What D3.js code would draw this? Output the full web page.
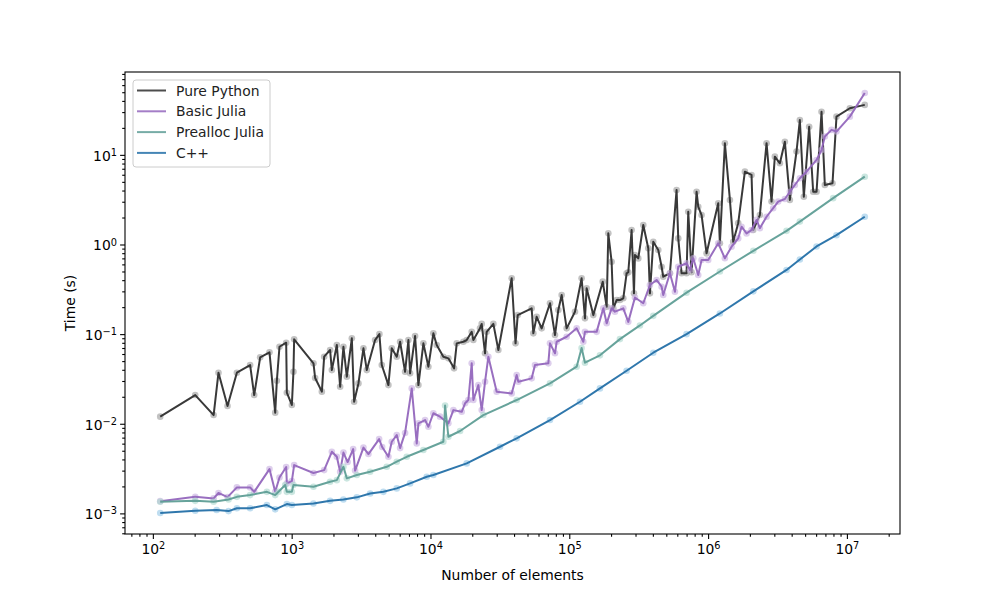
<!DOCTYPE html>
<html>
<head>
<meta charset="utf-8">
<script src="https://cdn.jsdelivr.net/npm/d3@7"></script>
<style>
  body { margin: 0; background: #fff; }
  svg { font-family: "DejaVu Sans", sans-serif; }
</style>
</head>
<body>
<svg id="chart" width="1000" height="600"></svg>
<script>
// Pure Python timings
var pySizes = [
  113, 202, 274, 297, 345, 403, 502, 537, 593, 692,
  761, 782, 817, 913, 923, 1003, 1030, 1042, 1436, 1476,
  1650, 1714, 1892, 1947, 2115, 2235, 2360, 2497, 2713, 2818,
  3027, 3289, 3477, 3990, 4285, 4458, 4977, 5261, 5715, 6040,
  6561, 6935, 7130, 7745, 8185, 8890, 9660, 10490, 11090, 12380,
  13460, 14790, 15460, 17260, 18240, 19820, 20370, 22750, 23390, 24720,
  25410, 28380, 30830, 38460, 41000, 42500, 53580, 55080, 58210, 63240,
  72610, 78890, 83370, 88150, 95720, 109900, 122700, 129700, 133400, 148900,
  174200, 185900, 191000, 201800, 207500, 219300, 231700, 244900, 258800, 266100,
  281200, 292400, 297200, 314100, 341200, 370700, 381100, 402700, 437500, 462400,
  475300, 530900, 592900, 609500, 644200, 699800, 719400, 760300, 826000, 849200,
  897500, 975000, 1.183e6, 1.216e6, 1.321e6, 1.436e6, 1.517e6, 1.648e6, 1.841e6, 2.056e6,
  2.113e6, 2.360e6, 2.637e6, 2.864e6, 3.027e6, 3.289e6, 3.573e6, 3.882e6, 4.335e6, 4.581e6,
  4.895e6, 5.346e6, 5.716e6, 6.045e6, 6.565e6, 6.935e6, 7.875e6, 8.413e6, 1.050e7, 1.345e7
];
var pyTimes = [
  0.0120, 0.0209, 0.0125, 0.0371, 0.0158, 0.0371, 0.0452, 0.0209, 0.0551, 0.0627,
  0.0133, 0.0302, 0.0723, 0.0802, 0.0222, 0.0162, 0.0380, 0.0875, 0.0472, 0.0324,
  0.0228, 0.0560, 0.0665, 0.0397, 0.0756, 0.0259, 0.0723, 0.0335, 0.0898, 0.0176,
  0.0282, 0.0694, 0.0397, 0.0859, 0.100, 0.0452, 0.0270, 0.0694, 0.0560, 0.0822,
  0.0380, 0.0859, 0.0365, 0.0952, 0.0270, 0.0789, 0.0433, 0.102, 0.0756, 0.0560,
  0.0537, 0.0415, 0.0789, 0.0822, 0.0859, 0.106, 0.0859, 0.116, 0.130, 0.0611,
  0.106, 0.130, 0.0665, 0.420, 0.0789, 0.163, 0.194, 0.102, 0.156, 0.116,
  0.221, 0.0977, 0.186, 0.273, 0.116, 0.178, 0.420, 0.150, 0.324, 0.163,
  0.385, 0.202, 1.334, 0.643, 0.194, 0.240, 0.240, 0.251, 0.477, 0.490,
  1.452, 0.285, 0.764, 0.700, 1.65, 0.907, 0.285, 1.074, 0.868, 0.565,
  0.437, 0.477, 4.06, 1.17, 0.477, 0.477, 2.32, 0.490, 3.88, 2.64,
  2.13, 0.797, 2.88, 1.03, 13.5, 3.14, 1.07, 1.73, 6.50, 5.97,
  1.45, 2.13, 13.5, 3.01, 9.55, 8.05, 14.0, 3.14, 10.9, 24.5,
  3.41, 20.6, 3.88, 3.88, 30.3, 4.61, 4.82, 26.7, 33.1, 36.1
];

// Basic Julia timings
var jlSizes = [
  113, 202, 274, 297, 345, 403, 502, 537, 692, 761,
  817, 913, 923, 1003, 1042, 1436, 1714, 1947, 2115, 2235,
  2360, 2530, 2773, 2864, 3289, 3573, 4266, 4487, 4977, 5261,
  5715, 6040, 6561, 7330, 7962, 8185, 9140, 9660, 10490, 11720,
  13460, 14620, 16790, 17750, 18750, 19820, 20370, 22130, 23390, 24720,
  26120, 29990, 38460, 41780, 42950, 53580, 56620, 70630, 72610, 78890,
  81100, 95720, 113000, 126200, 129700, 157400, 175800, 185900, 201800, 213300,
  244900, 266100, 297200, 341200, 381100, 425600, 462400, 475300, 530900, 576800,
  609500, 699800, 739600, 781600, 849200, 897500, 1.002e6, 1.183e6, 1.321e6, 1.476e6,
  1.648e6, 1.742e6, 1.893e6, 2.056e6, 2.234e6, 2.360e6, 2.637e6, 2.944e6, 3.199e6, 3.573e6,
  3.882e6, 4.217e6, 4.581e6, 5.117e6, 6.045e6, 6.565e6, 6.935e6, 7.745e6, 8.413e6, 1.050e7,
  1.345e7
];
var jlTimes = [
  1.37e-3, 1.53e-3, 1.47e-3, 1.69e-3, 1.52e-3, 1.95e-3, 1.95e-3, 1.74e-3, 3.12e-3, 1.74e-3,
  2.51e-3, 3.29e-3, 2.16e-3, 2.29e-3, 3.46e-3, 2.82e-3, 3.04e-3, 4.87e-3, 4.28e-3, 2.91e-3,
  4.77e-3, 3.74e-3, 5.22e-3, 3.00e-3, 5.42e-3, 4.59e-3, 6.75e-3, 5.50e-3, 4.28e-3, 6.30e-3,
  7.48e-3, 5.35e-3, 7.9e-3, 2.48e-2, 6.04e-3, 1.01e-2, 1.10e-2, 9.26e-3, 1.31e-2, 1.20e-2,
  1.01e-2, 1.42e-2, 1.36e-2, 1.69e-2, 1.84e-2, 4.72e-2, 1.84e-2, 2.70e-2, 1.42e-2, 2.94e-2,
  5.60e-2, 2.28e-2, 2.18e-2, 3.50e-2, 2.94e-2, 3.21e-2, 4.52e-2, 4.72e-2, 7.89e-2, 6.11e-2,
  8.22e-2, 9.35e-2, 0.116, 8.22e-2, 0.106, 0.106, 0.194, 0.132, 0.194, 0.178,
  0.194, 0.137, 0.256, 0.221, 0.353, 0.402, 0.338, 0.273, 0.477, 0.297,
  0.565, 0.617, 0.519, 0.701, 0.457, 0.671, 0.671, 1.03, 0.701, 0.945,
  1.17, 1.58, 1.33, 1.45, 1.88, 1.52, 2.04, 2.54, 3.01, 3.22,
  3.88, 4.61, 5.48, 6.49, 8.77, 11.3, 16.0, 19.0, 18.2, 26.7,
  49
];

// Prealloc Julia timings
var paSizes = [
  113, 202, 274, 351, 403, 502, 663, 761, 804, 898,
  923, 1003, 1030, 1436, 1892, 2115, 2360, 2497, 2946, 3675,
  4842, 5715, 6745, 8890, 12380, 12740, 13460, 16340, 24040, 41780,
  72610, 113000, 122700, 129700, 166300, 231700, 322800, 402700, 699800, 1.216e6,
  2.118e6, 3.675e6, 4.581e6, 7.96e6, 1.345e7
];
var paTimes = [
  1.35e-3, 1.38e-3, 1.35e-3, 1.43e-3, 1.53e-3, 1.60e-3, 1.74e-3, 1.60e-3, 1.74e-3, 2.07e-3,
  1.74e-3, 1.74e-3, 2.07e-3, 1.98e-3, 2.25e-3, 2.35e-3, 3.31e-3, 2.46e-3, 2.68e-3, 2.91e-3,
  3.31e-3, 3.77e-3, 4.28e-3, 5.09e-3, 6.30e-3, 1.6e-2, 7.16e-3, 8.3e-3, 1.25e-2, 1.84e-2,
  2.82e-2, 4.33e-2, 7.0e-2, 4.8e-2, 5.8e-2, 8.8e-2, 0.125, 0.16, 0.29, 0.50,
  0.85, 1.42, 1.8, 3.29, 5.71
];

// C++ timings
var cpSizes = [
  113, 202, 288, 351, 403, 502, 663, 761, 923, 1003,
  1436, 1892, 2360, 2946, 3675, 4581, 5715, 7130, 9400, 10490,
  18240, 31700, 41780, 72610, 119400, 166300, 258800, 402700, 699800, 1.216e6,
  2.118e6, 3.675e6, 4.581e6, 6.045e6, 8.413e6, 1.345e7
];
var cpTimes = [
  1.01e-3, 1.07e-3, 1.09e-3, 1.06e-3, 1.14e-3, 1.14e-3, 1.24e-3, 1.11e-3, 1.27e-3, 1.24e-3,
  1.29e-3, 1.38e-3, 1.43e-3, 1.51e-3, 1.67e-3, 1.74e-3, 1.90e-3, 2.16e-3, 2.56e-3, 2.68e-3,
  3.61e-3, 5.54e-3, 6.87e-3, 1.10e-2, 1.76e-2, 2.48e-2, 3.9e-2, 6.2e-2, 0.100, 0.170,
  0.30, 0.52, 0.68, 0.95, 1.27, 2.04
];

var seriesNames = ["Pure Python", "Basic Julia", "Prealloc Julia", "C++"];
var lineColors = ["#2e2e2e", "#9467bd", "#5f9e96", "#2470a8"];
var dotColors = ["#9a9a9a", "#c7aee0", "#a8d6cc", "#95c6e6"];

chart()

function chart() {
    var svg = d3.select("#chart")
    var margin = { top: 72, right: 100, bottom: 66, left: 125 };
    var width = 1000 - margin.left - margin.right;
    var height = 600 - margin.top - margin.bottom;

    var g = svg.append("g")
        .attr("transform", "translate(" + margin.left + "," + margin.top + ")");

    var series = [
        { sizes: pySizes, times: pyTimes },
        { sizes: jlSizes, times: jlTimes },
        { sizes: paSizes, times: paTimes },
        { sizes: cpSizes, times: cpTimes }
    ].map(function(s, i) {
        return {
            name: seriesNames[i],
            line: lineColors[i],
            dot: dotColors[i],
            points: s.sizes.map(function(n, j) { return [n, s.times[j]]; })
        };
    });

    // log domains with matplotlib-like 5% margins
    function logPad(ext) {
        var lo = Math.log10(ext[0]), hi = Math.log10(ext[1]);
        var pad = 0.05 * (hi - lo);
        return [Math.pow(10, lo - pad), Math.pow(10, hi + pad)];
    }
    var allPts = d3.merge(series.map(function(s) { return s.points; }));

    var x = d3.scaleLog()
        .domain(logPad(d3.extent(allPts, function(d) { return d[0]; })))
        .range([0, width]);
    var y = d3.scaleLog()
        .domain(logPad(d3.extent(allPts, function(d) { return d[1]; })))
        .range([height, 0]);

    function isPow10(v) {
        var l = Math.log10(v);
        return Math.abs(l - Math.round(l)) < 1e-9;
    }

    //major + minor ticks
    var xMajor = x.ticks().filter(isPow10);
    var xMinor = x.ticks().filter(function(v) { return !isPow10(v); });
    var yMajor = y.ticks().filter(isPow10);
    var yMinor = y.ticks().filter(function(v) { return !isPow10(v); });

    var xAxisG = g.append("g")
        .attr("transform", "translate(0," + height + ")")
        .call(d3.axisBottom(x).tickValues(xMajor).tickSize(4.9).tickSizeOuter(0).tickPadding(5).tickFormat(""));
    g.append("g")
        .attr("transform", "translate(0," + height + ")")
        .call(d3.axisBottom(x).tickValues(xMinor).tickSize(2.8).tickSizeOuter(0).tickFormat(""));

    var yAxisG = g.append("g")
        .call(d3.axisLeft(y).tickValues(yMajor).tickSize(4.9).tickSizeOuter(0).tickPadding(5).tickFormat(""));
    g.append("g")
        .call(d3.axisLeft(y).tickValues(yMinor).tickSize(2.8).tickSizeOuter(0).tickFormat(""));

    g.selectAll(".domain").remove();
    g.selectAll(".tick line").attr("stroke", "#000").attr("stroke-width", 1.1);

    // power-of-ten labels with superscripts
    function powLabel(sel, v) {
        var e = Math.round(Math.log10(v));
        sel.text(null);
        sel.append("tspan").text("10");
        sel.append("tspan")
            .attr("dy", "-0.48em")
            .style("font-size", "9.8px")
            .text(e < 0 ? "\u2212" + (-e) : String(e));
    }
    xAxisG.selectAll(".tick text")
        .attr("y", 20)
        .attr("dy", 0)
        .attr("fill", "#000")
        .style("font-size", "13.9px")
        .attr("font-family", "DejaVu Sans")
        .each(function(d) { powLabel(d3.select(this), d); });
    yAxisG.selectAll(".tick text")
        .attr("x", -8)
        .attr("dy", "0.38em")
        .attr("fill", "#000")
        .style("font-size", "13.9px")
        .attr("font-family", "DejaVu Sans")
        .each(function(d) { powLabel(d3.select(this), d); });

    //axis titles
    g.append("text")
        .attr("x", width / 2)
        .attr("y", height + 46)
        .attr("text-anchor", "middle")
        .style("font-size", "13.9px")
        .text("Number of elements");
    g.append("text")
        .attr("transform", "rotate(-90)")
        .attr("x", -height / 2)
        .attr("y", -50)
        .attr("text-anchor", "middle")
        .style("font-size", "13.9px")
        .text("Time (s)");

    //series: faint markers under each line
    var line = d3.line()
        .x(function(d) { return x(d[0]); })
        .y(function(d) { return y(d[1]); });

    series.forEach(function(s) {
        g.append("g")
            .selectAll("circle")
            .data(s.points)
            .enter()
            .append("circle")
            .attr("cx", function(d) { return x(d[0]); })
            .attr("cy", function(d) { return y(d[1]); })
            .attr("r", 3.3)
            .attr("fill", s.dot)
            .attr("fill-opacity", 0.6);
        g.append("path")
            .datum(s.points)
            .attr("d", line)
            .attr("fill", "none")
            .attr("stroke", s.line)
            .attr("stroke-opacity", 0.95)
            .attr("stroke-width", 2)
            .attr("stroke-linejoin", "round");
    });

    //frame
    g.append("rect")
        .attr("width", width)
        .attr("height", height)
        .attr("fill", "none")
        .attr("stroke", "#000")
        .attr("stroke-width", 1.1);

    //legend
    var legend = g.append("g").attr("transform", "translate(8,8)");
    legend.append("rect")
        .attr("width", 137)
        .attr("height", 87)
        .attr("rx", 3)
        .attr("fill", "#fff")
        .attr("fill-opacity", 0.8)
        .attr("stroke", "#cccccc")
        .attr("stroke-width", 1);
    series.forEach(function(s, i) {
        var row = legend.append("g").attr("transform", "translate(0," + (10.5 + i * 20.8) + ")");
        row.append("line")
            .attr("x1", 4).attr("x2", 33)
            .attr("stroke", s.line)
            .attr("stroke-opacity", 0.85)
            .attr("stroke-width", 2);
        row.append("text")
            .attr("x", 43)
            .attr("dy", "0.36em")
            .style("font-size", "13.9px")
            .attr("fill", "#222")
            .text(s.name);
    });
}
</script>
</body>
</html>
